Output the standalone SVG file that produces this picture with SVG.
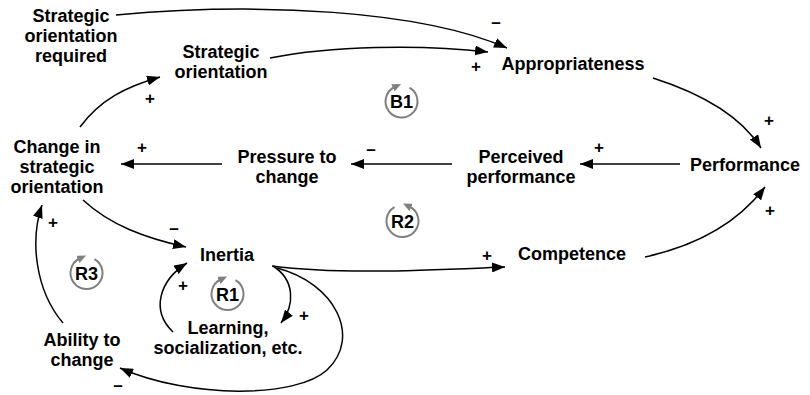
<svg xmlns="http://www.w3.org/2000/svg" width="810" height="395" viewBox="0 0 810 395">
<style>
.n{font-family:"Liberation Sans",Arial,sans-serif;font-weight:bold;font-size:18px;fill:#000;text-anchor:middle}
.s{font-family:"Liberation Sans",Arial,sans-serif;font-weight:bold;font-size:17px;fill:#000;text-anchor:middle}
.c{fill:none;stroke:#000;stroke-width:1.5}
.lp{fill:none;stroke:#808080;stroke-width:2}
.lt{font-family:"Liberation Sans",Arial,sans-serif;font-weight:bold;font-size:18px;fill:#000;text-anchor:middle}
</style>
<defs>
<marker id="ah" markerUnits="userSpaceOnUse" markerWidth="14" markerHeight="10" refX="13" refY="5" orient="auto"><path d="M0,0 L13,5 L0,10 z" fill="#000"/></marker>
<marker id="lh" markerUnits="userSpaceOnUse" markerWidth="10" markerHeight="8" refX="2" refY="4" orient="auto"><path d="M0,0 L9,4 L0,8 z" fill="#808080"/></marker>
</defs>
<rect width="810" height="395" fill="#fff"/>
<g id="connectors">
<path class="c" d="M116,15 C260,2 420,10 507,48" marker-end="url(#ah)"/>
<path class="c" d="M270,58 C330,46 420,44 488,52" marker-end="url(#ah)"/>
<path class="c" d="M80,127 C100,100 125,87 160,77" marker-end="url(#ah)"/>
<path class="c" d="M653,78 C700,93 740,115 761,148" marker-end="url(#ah)"/>
<path class="c" d="M680,164 L580,164" marker-end="url(#ah)"/>
<path class="c" d="M452,164 L351,164" marker-end="url(#ah)"/>
<path class="c" d="M222,164 L121,164" marker-end="url(#ah)"/>
<path class="c" d="M83,200 C110,225 145,238 186,247" marker-end="url(#ah)"/>
<path class="c" d="M272,266 C340,275 430,270 505,267" marker-end="url(#ah)"/>
<path class="c" d="M645,257 C700,245 740,220 765,187" marker-end="url(#ah)"/>
<path class="c" d="M273,266 C295,280 295,305 281,323" marker-end="url(#ah)"/>
<path class="c" d="M173,332 C150,310 160,280 187,263" marker-end="url(#ah)"/>
<path class="c" d="M277,268 C335,283 362,337 327,370 C297,398 190,399 120,368" marker-end="url(#ah)"/>
<path class="c" d="M63,323 C35,290 30,240 42,205" marker-end="url(#ah)"/>
<text class="s" x="496" y="28">–</text>
<text class="s" x="476" y="72">+</text>
<text class="s" x="150" y="104">+</text>
<text class="s" x="769" y="126">+</text>
<text class="s" x="599" y="153">+</text>
<text class="s" x="371" y="155">–</text>
<text class="s" x="142" y="153">+</text>
<text class="s" x="174" y="234">–</text>
<text class="s" x="487" y="261">+</text>
<text class="s" x="770" y="216">+</text>
<text class="s" x="304" y="321">+</text>
<text class="s" x="183" y="291">+</text>
<text class="s" x="118" y="391">–</text>
<text class="s" x="53" y="228">+</text>
</g>
<g id="n-sor"><text class="n" x="71" y="22">Strategic</text><text class="n" x="71" y="42">orientation</text><text class="n" x="71" y="62">required</text></g>
<g id="n-so"><text class="n" x="221" y="58">Strategic</text><text class="n" x="221" y="78">orientation</text></g>
<g id="n-app"><text class="n" x="573" y="70">Appropriateness</text></g>
<g id="n-cso"><text class="n" x="57" y="153">Change in</text><text class="n" x="57" y="173">strategic</text><text class="n" x="57" y="193">orientation</text></g>
<g id="n-ptc"><text class="n" x="287" y="163">Pressure to</text><text class="n" x="287" y="183">change</text></g>
<g id="n-pp"><text class="n" x="521" y="163">Perceived</text><text class="n" x="521" y="183">performance</text></g>
<g id="n-perf"><text class="n" x="745" y="171">Performance</text></g>
<g id="n-comp"><text class="n" x="572" y="260">Competence</text></g>
<g id="n-in"><text class="n" x="227" y="261">Inertia</text></g>
<g id="n-learn"><text class="n" x="228" y="334">Learning,</text><text class="n" x="228" y="354">socialization, etc.</text></g>
<g id="n-ab"><text class="n" x="82" y="346">Ability to</text><text class="n" x="82" y="366">change</text></g>
<g id="loop-b1"><path class="lp" d="M409.5,87.6 A16,16 0 1 1 394.7,87" marker-end="url(#lh)"/><text class="lt" x="401.5" y="108">B1</text></g>
<g id="loop-r2"><path class="lp" d="M394.5,207.1 A16,16 0 1 0 409.3,206.5" marker-end="url(#lh)"/><text class="lt" x="402.5" y="227.5">R2</text></g>
<g id="loop-r3"><path class="lp" d="M94.5,259.1 A16,16 0 1 1 79.7,258.5" marker-end="url(#lh)"/><text class="lt" x="86.5" y="279.5">R3</text></g>
<g id="loop-r1"><path class="lp" d="M235.5,280.1 A16,16 0 1 1 220.7,279.5" marker-end="url(#lh)"/><text class="lt" x="227.5" y="300.5">R1</text></g>
</svg>
